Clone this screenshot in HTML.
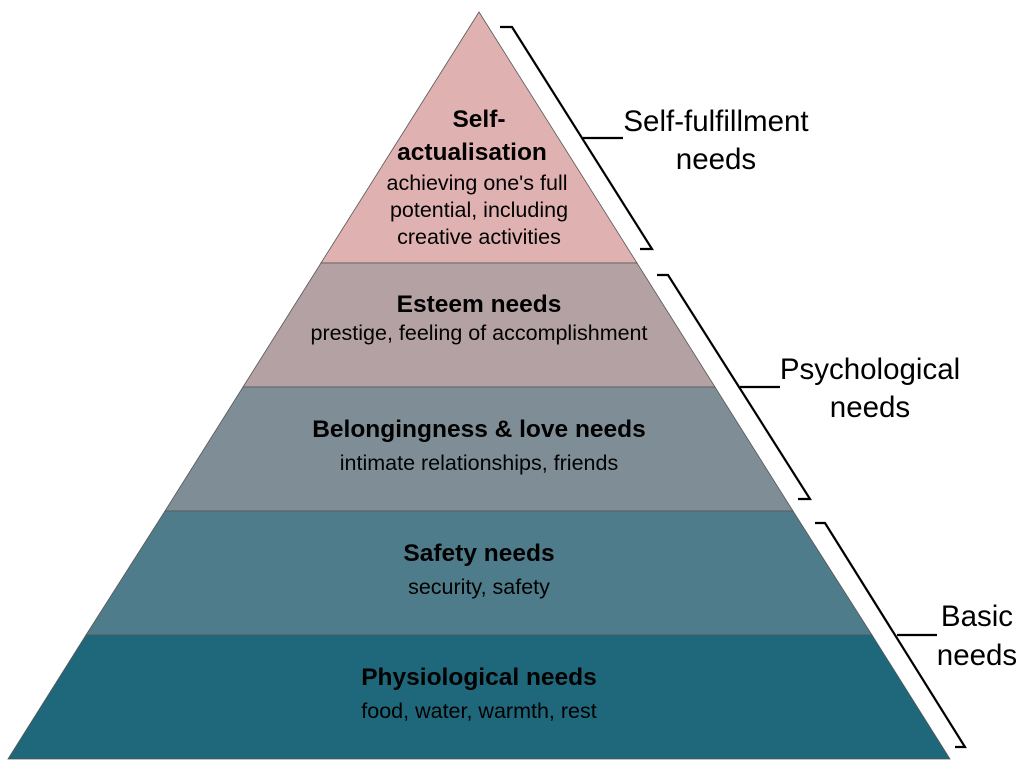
<!DOCTYPE html>
<html><head><style>
html,body{margin:0;padding:0;background:#fff;}
svg text{font-family:"Liberation Sans",Arial,sans-serif;}
</style></head><body>
<svg width="1023" height="775" viewBox="0 0 1023 775" xmlns="http://www.w3.org/2000/svg">
<g stroke="#555" stroke-width="0.8">
<polygon points="479,12 637,263 321,263" fill="#e0b1b1"/>
<polygon points="321,263 637,263 715,387 243,387" fill="#b3a1a4"/>
<polygon points="243,387 715,387 793,511 165,511" fill="#7f8e96"/>
<polygon points="165,511 793,511 872,635 86,635" fill="#4f7c8a"/>
<polygon points="86,635 872,635 950,759 8,759" fill="#1f677a"/>
</g>
<g fill="none" stroke="#000" stroke-width="2.2">
<polyline points="500,27 512,27 652,249 640,249"/>
<line x1="583" y1="138" x2="623" y2="138"/>
<polyline points="657,275 668,275 810,499 798,499"/>
<line x1="740" y1="387" x2="780" y2="387"/>
<polyline points="815,523 825,523 965,747 955,747"/>
<line x1="897" y1="635" x2="937" y2="635"/>
</g>
<g fill="#000" font-size="29.5" text-anchor="middle">
<text x="716" y="131">Self-fulfillment</text>
<text x="716" y="169">needs</text>
<text x="870" y="379">Psychological</text>
<text x="870" y="417">needs</text>
<text x="977" y="626">Basic</text>
<text x="977" y="665">needs</text>
</g>
<g fill="#000" text-anchor="middle">
<g font-size="24.5" font-weight="bold">
<text x="479" y="127">Self-</text>
<text x="472" y="160">actualisation</text>
<text x="479" y="312">Esteem needs</text>
<text x="479" y="437">Belongingness &amp; love needs</text>
<text x="479" y="561">Safety needs</text>
<text x="479" y="685">Physiological needs</text>
</g>
<g font-size="21.5">
<text x="477" y="190">achieving one's full</text>
<text x="479" y="217">potential, including</text>
<text x="479" y="244">creative activities</text>
<text x="479" y="340">prestige, feeling of accomplishment</text>
<text x="479" y="470">intimate relationships, friends</text>
<text x="479" y="594">security, safety</text>
<text x="479" y="718">food, water, warmth, rest</text>
</g>
</g>
</svg>
</body></html>
